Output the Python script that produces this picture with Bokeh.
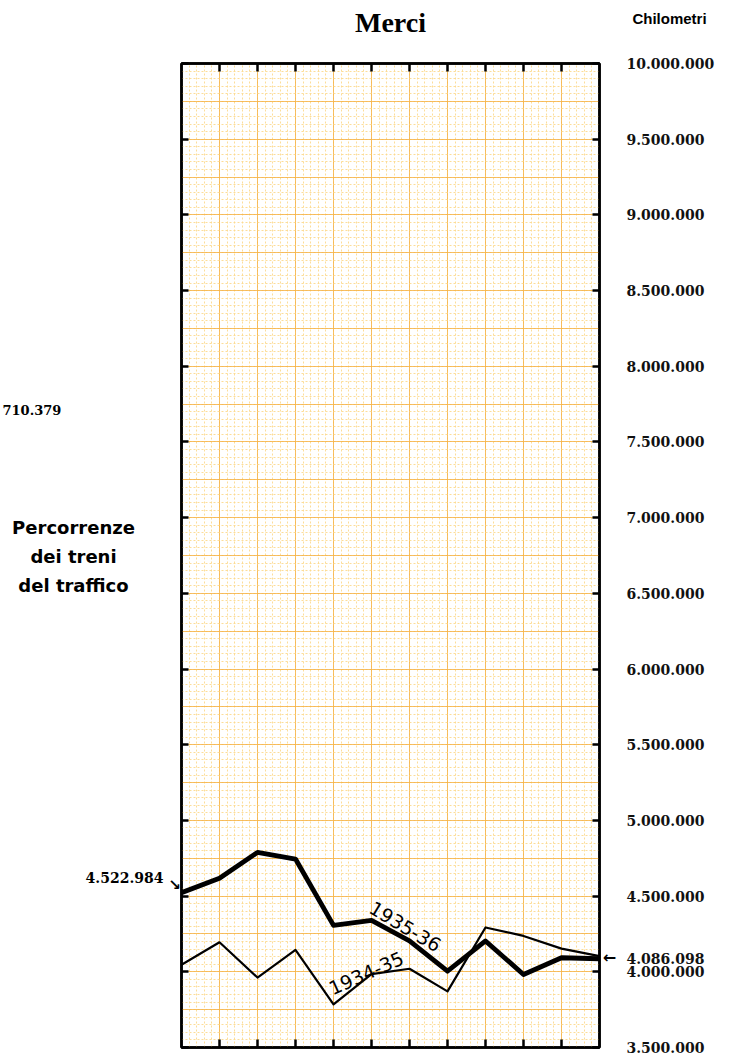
from bokeh.plotting import figure
from bokeh.layouts import row
from bokeh.models import (LinearAxis, FixedTicker, Range1d, Label, Grid,
                          SingleIntervalTicker)
from bokeh.embed import file_html
from bokeh.resources import INLINE

# ---------------- data ----------------
mesi = ["Luglio", "Agosto", "Settembre", "Ottobre", "Novembre", "Dicembre",
        "Gennaio", "Febbraio", "Marzo", "Aprile", "Maggio", "Giugno"]
km_1934_35 = [4047000, 4195000, 3962000, 4145000, 3785000, 3985000,
              4020000, 3871000, 4293000, 4237000, 4153000, 4104000]
km_1935_36 = [4522984, 4618000, 4789000, 4745000, 4307000, 4340000,
              4205000, 4004000, 4204000, 3982000, 4093000, 4086098]
y_ticks = [3500000, 4000000, 4500000, 5000000, 5500000, 6000000, 6500000,
           7000000, 7500000, 8000000, 8500000, 9000000, 9500000, 10000000]
y_tick_labels = ["3.500.000", "4.000.000", "4.500.000", "5.000.000",
                 "5.500.000", "6.000.000", "6.500.000", "7.000.000",
                 "7.500.000", "8.000.000", "8.500.000", "9.000.000",
                 "9.500.000", "10.000.000"]
label_inizio = "4.522.984"
label_fine = "4.086.098"
valore_esterno = 7710379
label_esterno = "710.379"
serie_labels = ["1934-35", "1935-36"]

x = list(range(len(mesi)))

FRAME_H = 984
TOP = 63
BOTTOM = 10
tick_font = "DejaVu Serif"

y_range = Range1d(y_ticks[0], y_ticks[-1])

# ---------------- main chart ----------------
p = figure(frame_width=418, frame_height=FRAME_H,
           x_range=Range1d(x[0], x[-1]), y_range=y_range,
           x_axis_location=None, y_axis_location=None,
           toolbar_location=None, output_backend="svg",
           min_border_left=12, min_border_right=135,
           min_border_top=TOP, min_border_bottom=BOTTOM,
           background_fill_color="white", border_fill_color="white",
           outline_line_color="black", outline_line_width=2.5)
# drop any default grids
p.center = [r for r in p.center if not isinstance(r, Grid)]

# graph-paper grid (faded orange / yellow)
grid_style = dict(grid_line_color="#f5b041", grid_line_width=1, grid_line_alpha=0.8,
                  minor_grid_line_color="#fcd98c", minor_grid_line_width=0.9,
                  minor_grid_line_dash="2 2")
p.add_layout(Grid(dimension=0, ticker=SingleIntervalTicker(interval=1, num_minor_ticks=5),
                  **grid_style))
p.add_layout(Grid(dimension=1, ticker=SingleIntervalTicker(interval=250000, num_minor_ticks=5),
                  **grid_style))

# axes
right_ticks = y_ticks + [km_1935_36[-1]]
right_labels = dict(zip(y_ticks, y_tick_labels))
right_labels[km_1935_36[-1]] = label_fine
right = LinearAxis(ticker=FixedTicker(ticks=right_ticks),
                   major_label_overrides=right_labels,
                   major_tick_in=7, major_tick_out=0, major_tick_line_width=2.5,
                   minor_tick_line_color=None, axis_line_width=2.5,
                   major_label_standoff=27,
                   major_label_text_font=tick_font, major_label_text_font_style="bold",
                   major_label_text_font_size="14px", major_label_text_color="#111111")
p.add_layout(right, "right")

left = LinearAxis(ticker=FixedTicker(ticks=y_ticks),
                  major_tick_in=7, major_tick_out=0, major_tick_line_width=2.5,
                  minor_tick_line_color=None, axis_line_width=2.5,
                  major_label_text_font_size="0px", major_label_standoff=0)
p.add_layout(left, "left")

for loc in ("below", "above"):
    ax = LinearAxis(ticker=FixedTicker(ticks=x[1:-1]),
                    major_tick_in=8, major_tick_out=0, major_tick_line_width=2.5,
                    minor_tick_line_color=None, axis_line_width=2.5,
                    major_label_text_font_size="0px", major_label_standoff=0)
    p.add_layout(ax, loc)

# lines
p.line(x, km_1934_35, line_color="black", line_width=2.2, line_join="round")
p.line(x, km_1935_36, line_color="black", line_width=4.8, line_join="round")

# series labels along the lines
p.add_layout(Label(x=5.89, y=4300000, text=serie_labels[1], angle=-31, angle_units="deg",
                   text_align="center", text_baseline="middle",
                   text_font="DejaVu Sans", text_font_size="19px", text_color="black"))
p.add_layout(Label(x=4.86, y=3992000, text=serie_labels[0], angle=24, angle_units="deg",
                   text_align="center", text_baseline="middle",
                   text_font="DejaVu Sans", text_font_size="19px", text_color="black"))

# title & unit heading (in the top panel, so they are not clipped)
mid_x = (x[0] + x[-1]) / 2
p.add_layout(Label(x=mid_x, y=y_ticks[-1], y_offset=41, text="Merci",
                   text_align="center", text_baseline="middle",
                   text_font="Liberation Serif", text_font_style="bold",
                   text_font_size="28px", text_color="black"), "above")
p.add_layout(Label(x=x[-1], x_offset=70, y=y_ticks[-1], y_offset=45, text="Chilometri",
                   text_align="center", text_baseline="middle",
                   text_font="Liberation Sans", text_font_style="bold",
                   text_font_size="15px", text_color="black"), "above")

# arrows next to the call-out values
p.add_layout(Label(x=x[0], x_offset=-7, y=km_1935_36[0], y_offset=8, text="\u2198",
                   text_align="center", text_baseline="middle",
                   text_font="DejaVu Sans", text_font_style="bold",
                   text_font_size="15px", text_color="black"), "left")
p.add_layout(Label(x=x[-1], x_offset=10, y=km_1935_36[-1], y_offset=1, text="\u2190",
                   text_align="center", text_baseline="middle",
                   text_font="DejaVu Sans", text_font_style="bold",
                   text_font_size="16px", text_color="black"), "right")

# ---------------- left text column ----------------
LEFT_W = 168
q = figure(frame_width=LEFT_W, frame_height=FRAME_H,
           x_range=Range1d(0, LEFT_W), y_range=y_range,
           x_axis_location=None, y_axis_location=None,
           toolbar_location=None, output_backend="svg",
           min_border_left=0, min_border_right=0,
           min_border_top=TOP, min_border_bottom=BOTTOM,
           background_fill_color="white", border_fill_color="white",
           outline_line_color=None)
q.center = [r for r in q.center if not isinstance(r, Grid)]

q.add_layout(Label(x=73, y=y_ticks[-1], y_offset=-493,
                   text="Percorrenze\ndei treni\ndel traffico",
                   text_align="center", text_baseline="middle", text_line_height=1.36,
                   text_font="DejaVu Sans", text_font_style="bold",
                   text_font_size="18px", text_color="black"))
q.add_layout(Label(x=2, y=valore_esterno, text=label_esterno,
                   text_align="left", text_baseline="middle",
                   text_font=tick_font, text_font_style="bold",
                   text_font_size="13px", text_color="black"))
q.add_layout(Label(x=LEFT_W - 5, y=km_1935_36[0], y_offset=15, text=label_inizio,
                   text_align="right", text_baseline="middle",
                   text_font=tick_font, text_font_style="bold",
                   text_font_size="14px", text_color="black"))

layout = row(q, p)
open("out.html", "w").write(file_html(layout, INLINE))
